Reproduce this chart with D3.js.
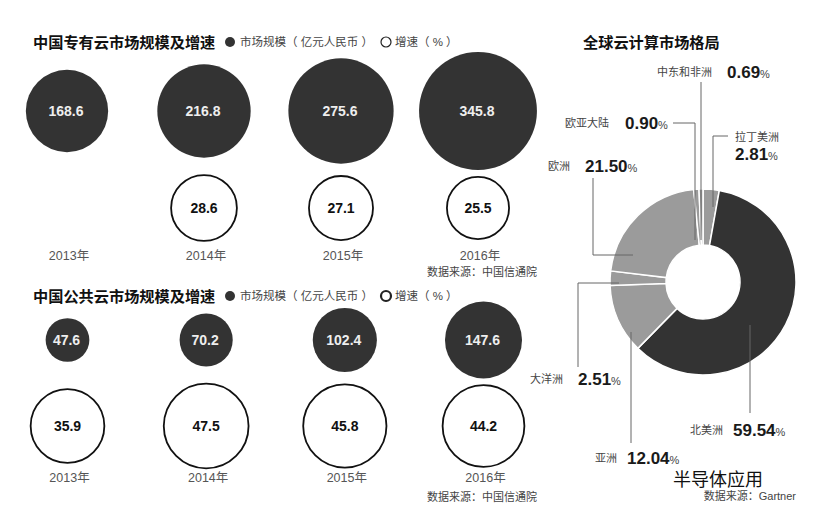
<!DOCTYPE html>
<html>
<head>
<meta charset="utf-8">
<script src="https://cdn.jsdelivr.net/npm/d3@7"></script>
<style>
  body { margin: 0; background: #fff; }
  svg { display: block; font-family: "Liberation Sans", "Noto Sans CJK SC", sans-serif; }
</style>
</head>
<body>
<svg id="chart"></svg>
<script>
// data
let years = ["2013年", "2014年", "2015年", "2016年"];
let privateSize = [168.6, 216.8, 275.6, 345.8];
let privateGrowth = [null, 28.6, 27.1, 25.5];
let publicSize = [47.6, 70.2, 102.4, 147.6];
let publicGrowth = [35.9, 47.5, 45.8, 44.2];

let regions = ["拉丁美洲", "北美洲", "亚洲", "大洋洲", "欧洲", "欧亚大陆", "中东和非洲"];
let shares = [2.81, 59.54, 12.04, 2.51, 21.5, 0.9, 0.69];

let svg = d3.select("#chart").attr("width", 821).attr("height", 514);

let dark = "#333";
let light = "#9b9b9b";

let rSize = d3.scaleSqrt().domain([0, 400]).range([0, 63.4]);
let rGrowth = d3.scaleSqrt().domain([0, 50]).range([0, 43.5]);

let drawPanel = (cfg) => {
  let g = svg.append("g");
  let x = d3.scalePoint().domain(years).range(cfg.xRange);

  g.append("text")
    .attr("x", 33).attr("y", cfg.titleY + 5.5)
    .attr("font-size", 15.2).attr("font-weight", "bold").attr("fill", "#111")
    .text(cfg.title);

  // legend
  g.append("circle").attr("cx", 230).attr("cy", cfg.titleY).attr("r", 5).attr("fill", dark);
  g.append("text").attr("x", 240).attr("y", cfg.titleY + 4)
    .attr("font-size", 11.5).attr("fill", "#444").text("市场规模（ 亿元人民币 ）");
  g.append("circle").attr("cx", 386).attr("cy", cfg.titleY).attr("r", 5)
    .attr("fill", "none").attr("stroke", "#222").attr("stroke-width", cfg.legendStroke);
  g.append("text").attr("x", 395).attr("y", cfg.titleY + 4)
    .attr("font-size", 11.5).attr("fill", "#444").text("增速（ % ）");

  let sizeData = years.map((y, i) => ({ year: y, v: cfg.size[i] }));
  let growthData = years.map((y, i) => ({ year: y, v: cfg.growth[i] })).filter((d) => d.v != null);

  g.selectAll(".size")
    .data(sizeData)
    .enter()
    .append("circle")
    .attr("class", "size")
    .attr("cx", (d) => x(d.year))
    .attr("cy", cfg.sizeY)
    .attr("r", (d) => rSize(d.v))
    .attr("fill", dark);

  g.selectAll(".sizeLabel")
    .data(sizeData)
    .enter()
    .append("text")
    .attr("class", "sizeLabel")
    .attr("x", (d) => x(d.year) - 1)
    .attr("y", cfg.sizeY + 5)
    .attr("text-anchor", "middle")
    .attr("font-size", 14).attr("font-weight", "bold").attr("fill", "#eee")
    .text((d) => d.v.toFixed(1));

  g.selectAll(".growth")
    .data(growthData)
    .enter()
    .append("circle")
    .attr("class", "growth")
    .attr("cx", (d) => x(d.year))
    .attr("cy", cfg.growthY)
    .attr("r", (d) => rGrowth(d.v))
    .attr("fill", "#fff").attr("stroke", "#111").attr("stroke-width", 1.8);

  g.selectAll(".growthLabel")
    .data(growthData)
    .enter()
    .append("text")
    .attr("class", "growthLabel")
    .attr("x", (d) => x(d.year))
    .attr("y", cfg.growthY + 5)
    .attr("text-anchor", "middle")
    .attr("font-size", 14).attr("font-weight", "bold").attr("fill", "#111")
    .text((d) => d.v.toFixed(1));

  g.selectAll(".year")
    .data(years)
    .enter()
    .append("text")
    .attr("class", "year")
    .attr("x", (d) => x(d) + 2)
    .attr("y", cfg.yearY + 4.5)
    .attr("text-anchor", "middle")
    .attr("font-size", 12.5).attr("fill", "#555")
    .text((d) => d);

  g.append("text")
    .attr("x", 537).attr("y", cfg.sourceY + 4)
    .attr("text-anchor", "end")
    .attr("font-size", 11).attr("fill", "#444")
    .text("数据来源：中国信通院");
};

drawPanel({
  title: "中国专有云市场规模及增速",
  titleY: 42, legendStroke: 1.2,
  xRange: [67, 478],
  size: privateSize, growth: privateGrowth,
  sizeY: 111, growthY: 208, yearY: 255, sourceY: 272
});

drawPanel({
  title: "中国公共云市场规模及增速",
  titleY: 296, legendStroke: 2.2,
  xRange: [67.5, 483.5],
  size: publicSize, growth: publicGrowth,
  sizeY: 340, growthY: 426, yearY: 477, sourceY: 497
});

// donut
let cx = 703, cy = 282;
let pieData = d3.pie().sort(null).value((d) => d.v)(
  regions.map((r, i) => ({ name: r, v: shares[i] }))
);
let arc = d3.arc().innerRadius(37).outerRadius(93);

let donut = svg.append("g").attr("transform", `translate(${cx},${cy})`);
donut.selectAll("path")
  .data(pieData)
  .enter()
  .append("path")
  .attr("d", arc)
  .attr("fill", (d) => (d.data.name === "北美洲" ? dark : light))
  .attr("stroke", "#fff")
  .attr("stroke-width", 1.5);

svg.append("text")
  .attr("x", 583).attr("y", 47.5)
  .attr("font-size", 15.2).attr("font-weight", "bold").attr("fill", "#111")
  .text("全球云计算市场格局");

// label layout: text positions and leader paths
let labelLayout = {
  "中东和非洲": { nx: 657, vx: 727, ny: 76, vy: 78, line: [[701, 82], [701, 240]] },
  "欧亚大陆": { nx: 565, vx: 625, ny: 127, vy: 129, line: [[673, 123], [695, 123], [695, 240]] },
  "拉丁美洲": { nx: 735, vx: 735, ny: 141, vy: 160, line: [[728, 136], [713, 136], [713, 207]] },
  "欧洲": { nx: 548, vx: 585, ny: 170, vy: 172, line: [[593, 178], [593, 255], [633, 255]] },
  "大洋洲": { nx: 563, vx: 578, ny: 383, vy: 385, anchor: "end", line: [[578, 367], [578, 283], [619, 283]] },
  "亚洲": { nx: 595, vx: 627, ny: 462, vy: 464, line: [[631, 443], [631, 332]] },
  "北美洲": { nx: 690, vx: 733, ny: 434, vy: 436, line: [[750, 413], [750, 325]] }
};

let line = d3.line();
svg.selectAll(".leader")
  .data(pieData)
  .enter()
  .append("path")
  .attr("class", "leader")
  .attr("d", (d) => line(labelLayout[d.data.name].line))
  .attr("fill", "none")
  .attr("stroke", "#666")
  .attr("stroke-width", 1);

svg.selectAll(".regionName")
  .data(pieData)
  .enter()
  .append("text")
  .attr("class", "regionName")
  .attr("x", (d) => labelLayout[d.data.name].nx)
  .attr("y", (d) => labelLayout[d.data.name].ny)
  .attr("text-anchor", (d) => labelLayout[d.data.name].anchor || "start")
  .attr("font-size", 11).attr("fill", "#444")
  .text((d) => d.data.name);

let vals = svg.selectAll(".regionValue")
  .data(pieData)
  .enter()
  .append("text")
  .attr("class", "regionValue")
  .attr("x", (d) => labelLayout[d.data.name].vx)
  .attr("y", (d) => labelLayout[d.data.name].vy);
vals.append("tspan")
  .attr("font-size", 17).attr("font-weight", "bold").attr("fill", "#1a1a1a")
  .text((d) => d.data.v.toFixed(2));
vals.append("tspan")
  .attr("font-size", 11).attr("fill", "#444")
  .text("%");

svg.append("text")
  .attr("x", 673).attr("y", 486)
  .attr("font-size", 18).attr("fill", "#111")
  .attr("font-family", "'Noto Sans CJK SC', sans-serif")
  .text("半导体应用");

svg.append("text")
  .attr("x", 796).attr("y", 500)
  .attr("text-anchor", "end")
  .attr("font-size", 11).attr("fill", "#444")
  .text("数据来源：Gartner");
</script>
</body>
</html>
